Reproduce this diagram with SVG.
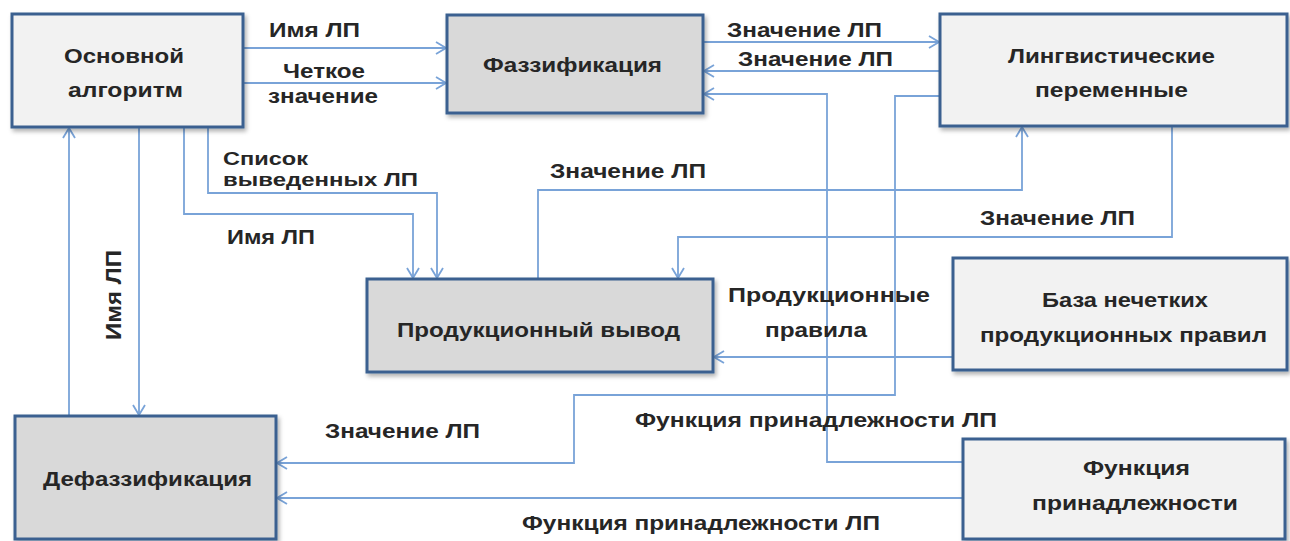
<svg xmlns="http://www.w3.org/2000/svg" width="1290" height="541" viewBox="0 0 1290 541">
<style>
.box{stroke:#3a6090;stroke-width:3;filter:url(#sh)}
.light{fill:#f2f2f2}
.dark{fill:#d9d9d9}
text{font-family:"Liberation Sans",Arial,sans-serif;font-weight:bold;font-size:20px;fill:#262626}
.c{fill:none;stroke:#79a3d8;stroke-width:1.8}
</style>
<defs>
<filter id="sh" x="-5%" y="-5%" width="115%" height="120%">
<feDropShadow dx="2" dy="3" stdDeviation="2" flood-color="#000" flood-opacity="0.3"/>
</filter>
<marker id="a" viewBox="0 0 12 14" refX="11" refY="7" markerWidth="12" markerHeight="14" markerUnits="userSpaceOnUse" orient="auto">
<path d="M1,1 L11,7 L1,13" fill="none" stroke="#79a3d8" stroke-width="1.8"/>
</marker>
</defs>
<rect width="1290" height="541" fill="#fff"/>
<g id="connectors">
<path class="c" d="M243,48 H446" marker-end="url(#a)"/>
<path class="c" d="M243,83 H446" marker-end="url(#a)"/>
<path class="c" d="M703,42 H939" marker-end="url(#a)"/>
<path class="c" d="M940,71 H704" marker-end="url(#a)"/>
<path class="c" d="M963,462 H827 V94 H704" marker-end="url(#a)"/>
<path class="c" d="M940,96 H895 V395 H574 V463 H277" marker-end="url(#a)"/>
<path class="c" d="M963,498 H277" marker-end="url(#a)"/>
<path class="c" d="M538,279 V190 H1022 V127" marker-end="url(#a)"/>
<path class="c" d="M1172,126 V237 H678 V278" marker-end="url(#a)"/>
<path class="c" d="M952,357 H714" marker-end="url(#a)"/>
<path class="c" d="M208,127 V193 H437 V278" marker-end="url(#a)"/>
<path class="c" d="M184,127 V214 H413 V278" marker-end="url(#a)"/>
<path class="c" d="M69,416 V128" marker-end="url(#a)"/>
<path class="c" d="M139,127 V415" marker-end="url(#a)"/>
</g>
<g id="labels">
<text x="269" y="37" textLength="91" lengthAdjust="spacingAndGlyphs">Имя ЛП</text>
<text x="283" y="78" textLength="82" lengthAdjust="spacingAndGlyphs">Четкое</text>
<text x="268" y="103" textLength="110" lengthAdjust="spacingAndGlyphs">значение</text>
<text x="223" y="165" textLength="85" lengthAdjust="spacingAndGlyphs" style="font-size:18px">Список</text>
<text x="223" y="186" textLength="195" lengthAdjust="spacingAndGlyphs" style="font-size:18px">выведенных ЛП</text>
<text x="227" y="244" textLength="88" lengthAdjust="spacingAndGlyphs">Имя ЛП</text>
<text transform="translate(121,340) rotate(-90)" x="0" y="0" textLength="90" lengthAdjust="spacingAndGlyphs" style="font-size:22px">Имя ЛП</text>
<text x="727" y="37" textLength="155" lengthAdjust="spacingAndGlyphs">Значение ЛП</text>
<text x="738" y="66" textLength="155" lengthAdjust="spacingAndGlyphs">Значение ЛП</text>
<text x="550" y="178" textLength="156" lengthAdjust="spacingAndGlyphs">Значение ЛП</text>
<text x="980" y="225" textLength="155" lengthAdjust="spacingAndGlyphs">Значение ЛП</text>
<text x="728" y="302" textLength="202" lengthAdjust="spacingAndGlyphs">Продукционные</text>
<text x="765" y="337" textLength="102" lengthAdjust="spacingAndGlyphs">правила</text>
<text x="635" y="427" textLength="362" lengthAdjust="spacingAndGlyphs">Функция принадлежности ЛП</text>
<text x="325" y="438" textLength="155" lengthAdjust="spacingAndGlyphs">Значение ЛП</text>
<text x="522" y="530" textLength="358" lengthAdjust="spacingAndGlyphs">Функция принадлежности ЛП</text>
</g>
<g id="node-main">
<rect class="box light" x="12" y="14" width="231" height="113"/>
<text x="64" y="63" textLength="120" lengthAdjust="spacingAndGlyphs">Основной</text>
<text x="68" y="97" textLength="115" lengthAdjust="spacingAndGlyphs">алгоритм</text>
</g>
<g id="node-fuzz">
<rect class="box dark" x="447" y="15" width="256" height="98"/>
<text x="483" y="72" textLength="179" lengthAdjust="spacingAndGlyphs">Фаззификация</text>
</g>
<g id="node-ling">
<rect class="box light" x="940" y="14" width="347" height="112"/>
<text x="1008" y="63" textLength="207" lengthAdjust="spacingAndGlyphs">Лингвистические</text>
<text x="1035" y="97" textLength="153" lengthAdjust="spacingAndGlyphs">переменные</text>
</g>
<g id="node-inference">
<rect class="box dark" x="367" y="279" width="346" height="93"/>
<text x="397" y="337" textLength="283" lengthAdjust="spacingAndGlyphs">Продукционный вывод</text>
</g>
<g id="node-rules">
<rect class="box light" x="953" y="258" width="334" height="112"/>
<text x="1042" y="307" textLength="166" lengthAdjust="spacingAndGlyphs">База нечетких</text>
<text x="980" y="342" textLength="287" lengthAdjust="spacingAndGlyphs">продукционных правил</text>
</g>
<g id="node-defuzz">
<rect class="box dark" x="15" y="416" width="261" height="123"/>
<text x="43" y="486" textLength="209" lengthAdjust="spacingAndGlyphs">Дефаззификация</text>
</g>
<g id="node-membership">
<rect class="box light" x="963" y="439" width="322" height="100"/>
<text x="1083" y="475" textLength="107" lengthAdjust="spacingAndGlyphs">Функция</text>
<text x="1032" y="510" textLength="206" lengthAdjust="spacingAndGlyphs">принадлежности</text>
</g>
</svg>
